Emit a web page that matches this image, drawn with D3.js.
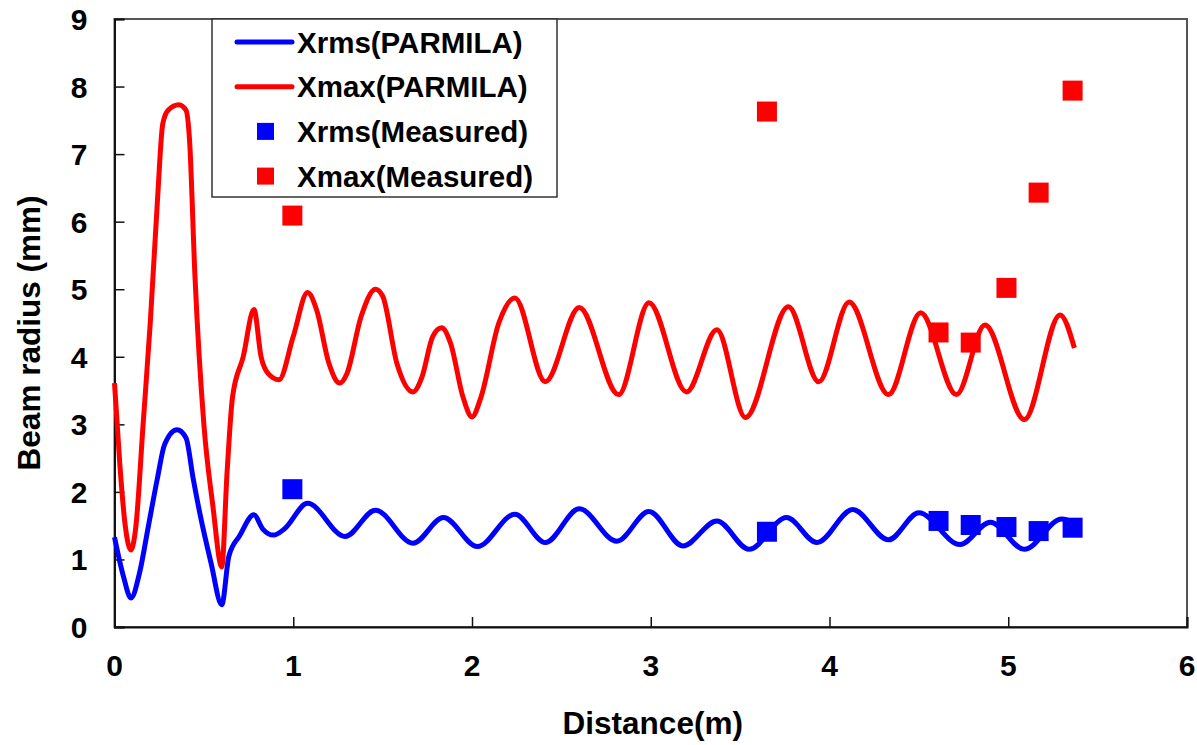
<!DOCTYPE html>
<html>
<head>
<meta charset="utf-8">
<script src="https://cdn.jsdelivr.net/npm/d3@7"></script>
<style>
body { margin: 0; background: #fff; }
text { font-family: "Liberation Sans", Arial, sans-serif; font-weight: bold; fill: #000; }
</style>
</head>
<body>
<div id="chart-area"></div>
<script>
var margin = {left: 114.5, right: 10, top: 19, bottom: 118};
var width = 1197 - margin.left - margin.right;
var height = 745 - margin.top - margin.bottom;

// data
var xTicks = [0, 1, 2, 3, 4, 5, 6];
var yTicks = [0, 1, 2, 3, 4, 5, 6, 7, 8, 9];

var xmaxDist = [0, 0.03, 0.06, 0.092, 0.12, 0.16, 0.2, 0.24, 0.27, 0.3, 0.36, 0.4, 0.42, 0.45, 0.5, 0.55, 0.6,
	0.63, 0.66, 0.72, 0.78, 0.82, 0.86, 0.92, 1.0, 1.08, 1.13, 1.2, 1.26, 1.3, 1.38, 1.46, 1.5, 1.58, 1.67,
	1.72, 1.78, 1.83, 1.88, 1.95, 2.0, 2.05, 2.15, 2.24, 2.41, 2.6, 2.82, 2.99, 3.2, 3.37, 3.53, 3.77, 3.94,
	4.11, 4.33, 4.51, 4.71, 4.87, 5.09, 5.29, 5.37];
var xmaxSim = [3.61, 2.4, 1.5, 1.14, 1.5, 3.0, 4.5, 6.3, 7.45, 7.65, 7.73, 7.65, 7.2, 5.2, 3.0, 1.8, 0.89,
	2.3, 3.4, 4.0, 4.7, 4.0, 3.75, 3.66, 4.3, 4.95, 4.7, 3.9, 3.61, 3.75, 4.6, 5.0, 4.9, 3.9, 3.48,
	3.7, 4.3, 4.43, 4.2, 3.4, 3.11, 3.4, 4.5, 4.87, 3.63, 4.73, 3.44, 4.8, 3.48, 4.4, 3.1, 4.74, 3.63,
	4.81, 3.44, 4.65, 3.44, 4.47, 3.07, 4.62, 4.13];

var xrmsDist = [0, 0.05, 0.092, 0.14, 0.19, 0.24, 0.28, 0.35, 0.4, 0.44, 0.48, 0.54, 0.6, 0.64, 0.7, 0.78,
	0.83, 0.89, 0.95, 1.08, 1.29, 1.46, 1.67, 1.84, 2.03, 2.24, 2.41, 2.6, 2.81, 2.99, 3.18, 3.37, 3.55,
	3.76, 3.93, 4.13, 4.33, 4.5, 4.73, 4.9, 5.09, 5.3, 5.37];
var xrmsSim = [1.33, 0.75, 0.43, 0.8, 1.5, 2.2, 2.7, 2.92, 2.8, 2.2, 1.65, 0.95, 0.33, 1.05, 1.35, 1.66,
	1.45, 1.36, 1.45, 1.83, 1.34, 1.73, 1.24, 1.62, 1.19, 1.67, 1.25, 1.75, 1.27, 1.71, 1.2, 1.57, 1.15,
	1.62, 1.25, 1.74, 1.29, 1.69, 1.22, 1.55, 1.15, 1.6, 1.55];

var measDist = [0.995, 3.65, 4.61, 4.79, 4.99, 5.17, 5.36];
var xrmsMeas = [2.04, 1.41, 1.57, 1.51, 1.48, 1.42, 1.47];
var xmaxMeas = [6.09, 7.63, 4.36, 4.21, 5.02, 6.43, 7.94];

var legendLabels = ["Xrms(PARMILA)", "Xmax(PARMILA)", "Xrms(Measured)", "Xmax(Measured)"];
var legendColors = ["#0000ff", "#ff0000", "#0000ff", "#ff0000"];

var svg = d3.select("#chart-area")
	.append("svg")
		.attr("width", 1197)
		.attr("height", 745);

var canvas = svg.append("g")
	.attr("transform", "translate(" + margin.left + ", " + margin.top + ")");

//scales
var x = d3.scaleLinear()
	.domain([0, 6])
	.range([0, width]);

var y = d3.scaleLinear()
	.domain([0, 9])
	.range([height, 0]);

//frame
canvas.append("rect")
	.attr("width", width)
	.attr("height", height)
	.attr("fill", "none")
	.attr("stroke", "#555")
	.attr("stroke-width", 2);

//x axis, ticks pointing inward
var xAxisCall = d3.axisTop(x)
	.tickValues(xTicks)
	.tickSize(10)
	.tickFormat("");
canvas.append("g")
	.attr("class", "x axis")
	.attr("transform", "translate(0, " + height + ")")
	.call(xAxisCall);

//y axis, ticks pointing inward
var yAxisCall = d3.axisRight(y)
	.tickValues(yTicks)
	.tickSize(10)
	.tickFormat("");
canvas.append("g")
	.attr("class", "y axis")
	.call(yAxisCall);

canvas.selectAll(".axis path").attr("stroke", "#111").attr("stroke-width", 2);
canvas.selectAll(".axis line").attr("stroke", "#111").attr("stroke-width", 1.5);

//tick labels
canvas.selectAll(".xlab")
	.data(xTicks)
	.enter().append("text")
		.attr("class", "xlab")
		.attr("x", function(d){ return x(d); })
		.attr("y", height + 49)
		.attr("text-anchor", "middle")
		.attr("font-size", 30)
		.text(function(d){ return d; });

canvas.selectAll(".ylab")
	.data(yTicks)
	.enter().append("text")
		.attr("class", "ylab")
		.attr("x", -27)
		.attr("y", function(d){ return y(d) + 11; })
		.attr("text-anchor", "end")
		.attr("font-size", 30)
		.text(function(d){ return d; });

//axis titles
canvas.append("text")
	.attr("x", x(3) + 2)
	.attr("y", height + 107)
	.attr("text-anchor", "middle")
	.attr("font-size", 31.5)
	.text("Distance(m)");

canvas.append("text")
	.attr("transform", "rotate(-90)")
	.attr("x", -314)
	.attr("y", -75)
	.attr("text-anchor", "middle")
	.attr("font-size", 31.5)
	.text("Beam radius (mm)");

//simulated curves
var line = d3.line()
	.x(function(d){ return x(d[0]); })
	.y(function(d){ return y(d[1]); })
	.curve(d3.curveMonotoneX);

canvas.append("path")
	.datum(d3.zip(xmaxDist, xmaxSim))
	.attr("d", line)
	.attr("fill", "none")
	.attr("stroke", "#ff0000")
	.attr("stroke-width", 5)
	.attr("stroke-linejoin", "round");

canvas.append("path")
	.datum(d3.zip(xrmsDist, xrmsSim))
	.attr("d", line)
	.attr("fill", "none")
	.attr("stroke", "#0000ff")
	.attr("stroke-width", 5)
	.attr("stroke-linejoin", "round");

//measured points
var sq = 20;
canvas.selectAll(".rms")
	.data(d3.zip(measDist, xrmsMeas))
	.enter().append("rect")
		.attr("class", "rms")
		.attr("x", function(d){ return x(d[0]) - sq / 2; })
		.attr("y", function(d){ return y(d[1]) - sq / 2; })
		.attr("width", sq)
		.attr("height", sq)
		.attr("fill", "#0000ff");

canvas.selectAll(".max")
	.data(d3.zip(measDist, xmaxMeas))
	.enter().append("rect")
		.attr("class", "max")
		.attr("x", function(d){ return x(d[0]) - sq / 2; })
		.attr("y", function(d){ return y(d[1]) - sq / 2; })
		.attr("width", sq)
		.attr("height", sq)
		.attr("fill", "#ff0000");

//legend
var legend = svg.append("g")
	.attr("transform", "translate(212, 19)");

legend.append("rect")
	.attr("width", 345)
	.attr("height", 178)
	.attr("fill", "#fff")
	.attr("stroke", "#333")
	.attr("stroke-width", 1.5);

legendLabels.forEach(function(label, i){
	var row = legend.append("g")
		.attr("transform", "translate(0, " + (23 + i * 44.7) + ")");
	if (i < 2) {
		row.append("line")
			.attr("x1", 25)
			.attr("x2", 80)
			.attr("stroke", legendColors[i])
			.attr("stroke-width", 5)
			.attr("stroke-linecap", "round");
	} else {
		row.append("rect")
			.attr("x", 45)
			.attr("y", -8.5)
			.attr("width", 17)
			.attr("height", 17)
			.attr("fill", legendColors[i]);
	}
	row.append("text")
		.attr("x", 85)
		.attr("y", 10.5)
		.attr("font-size", 29.5)
		.attr("font-size", 29.5)
		.text(label);
});
</script>
</body>
</html>
